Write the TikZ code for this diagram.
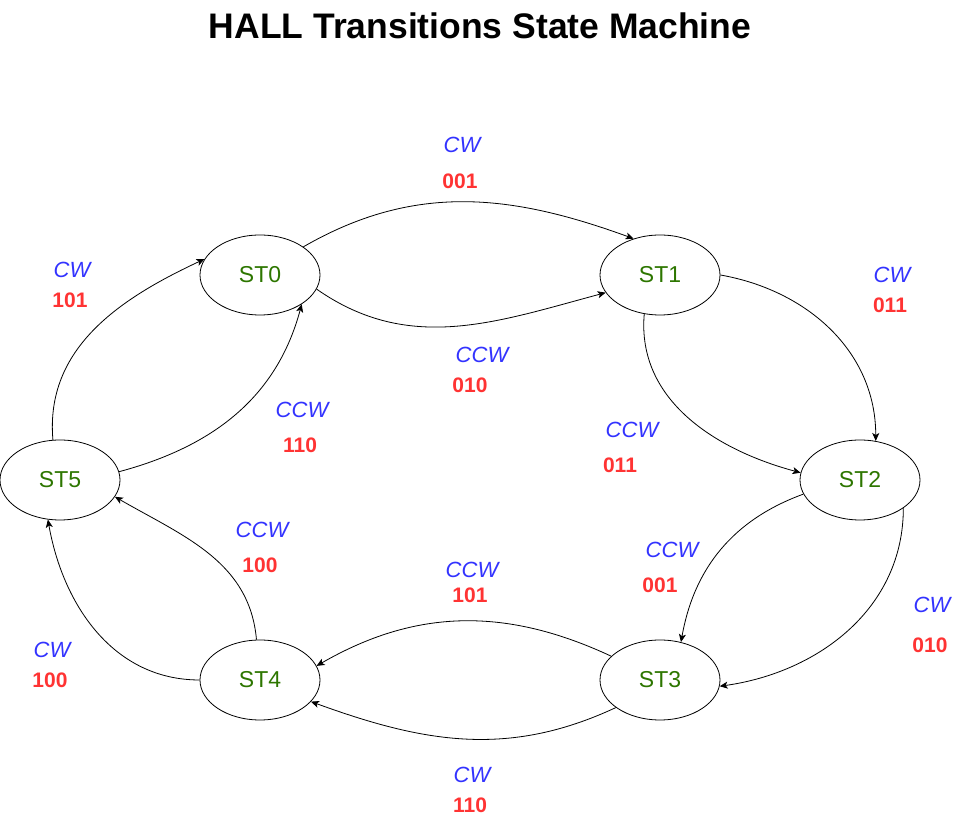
\documentclass[tikz,border=0pt]{standalone}
\usepackage{fontspec}
\setmainfont{Liberation Sans}
\usetikzlibrary{shapes.geometric,arrows.meta}
\definecolor{dirblue}{HTML}{3333FF}
\definecolor{codered}{HTML}{FF3333}
\definecolor{stgreen}{HTML}{2D7600}
\begin{document}
\begin{tikzpicture}[x=1pt,y=1pt,
    state/.style={ellipse,draw,line width=0.8pt,minimum width=120pt,minimum height=80pt,inner sep=0pt,text=stgreen,font=\fontsize{23}{27}\selectfont},
    dir/.style={text=dirblue,font=\fontsize{22}{26}\selectfont\itshape},
    code/.style={text=codered,font=\fontsize{21}{25}\selectfont\bfseries},
    trans/.style={-{Stealth[length=8pt,width=7pt,inset=2pt]},line width=0.8pt}]
        \useasboundingbox (0,0) rectangle (961,821);
        \node (title) at (480,795) {\fontsize{35.5}{40}\selectfont\bfseries HALL Transitions State Machine};
        \node[state] (st0) at (260,546) {ST0};
        \node[state] (st1) at (660,546) {ST1};
        \node[state] (st2) at (860,341) {ST2};
        \node[state] (st3) at (660,141) {ST3};
        \node[state] (st4) at (260,141) {ST4};
        \node[state] (st5) at (60,341) {ST5};
        \node[dir] (d01) at (462,676) {CW};  \node[code] (c01) at (460,640) {001};
        \node[dir] (d10) at (482,466) {CCW}; \node[code] (c10) at (470,436) {010};
        \node[dir] (d50) at (72,551) {CW};   \node[code] (c50) at (70,521) {101};
        \node[dir] (d05) at (302,411) {CCW}; \node[code] (c05) at (300,376) {110};
        \node[dir] (d12) at (892,546) {CW};  \node[code] (c12) at (890,516) {011};
        \node[dir] (d21) at (632,391) {CCW}; \node[code] (c21) at (620,356) {011};
        \node[dir] (d23) at (672,271) {CCW}; \node[code] (c23) at (660,236) {001};
        \node[dir] (d32) at (932,216) {CW};  \node[code] (c32) at (930,176) {010};
        \node[dir] (d34) at (472,251) {CCW}; \node[code] (c34) at (470,226) {101};
        \node[dir] (d45) at (262,291) {CCW}; \node[code] (c45) at (260,256) {100};
        \node[dir] (d54) at (52,171) {CW};   \node[code] (c54) at (50,141) {100};
        \node[dir] (d43) at (472,46) {CW};   \node[code] (c43) at (470,16) {110};
        \draw[trans] (st0.33) to[out=30,in=160] (st1.126);
        \draw[trans] (st0.-14) to[out=-35,in=195] (st1.198);
        \draw[trans] (st1.0) to[out=-10,in=90] (st2.68);
        \draw[trans] (st1.248) to[out=265,in=165] (st2.173);
        \draw[trans] (st2.194) to[out=200,in=80] (st3.61);
        \draw[trans] (st2.-33) to[out=-90,in=8] (st3.-6);
        \draw[trans] (st3.154) to[out=155,in=30] (st4.14);
        \draw[trans] (st3.212) to[out=205,in=-20] (st4.-23);
        \draw[trans] (st4.95) to[out=95,in=-30] (st5.-17);
        \draw[trans] (st4.180) to[out=180,in=-80] (st5.253);
        \draw[trans] (st5.8) to[out=15,in=-105] (st0.-35);
        \draw[trans] (st5.100) to[out=95,in=205] (st0.164);
\end{tikzpicture}
\end{document}
